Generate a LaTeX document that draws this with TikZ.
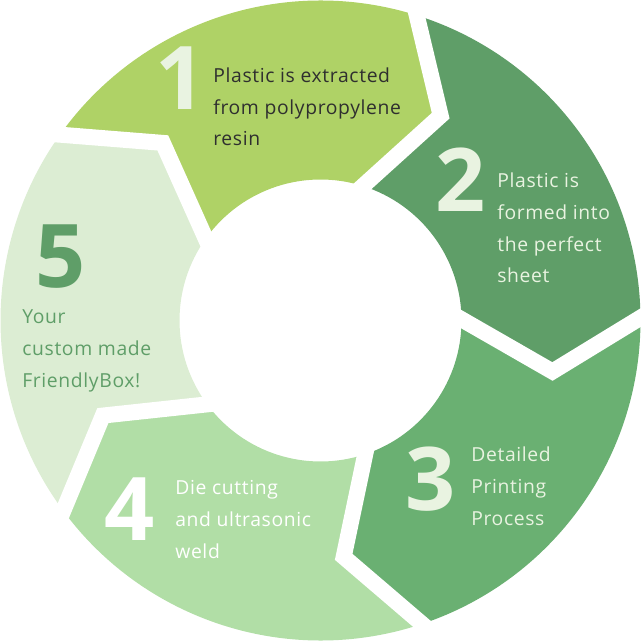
\documentclass[tikz,border=0pt]{standalone}
\usepackage{fontspec}
\setmainfont{Open Sans}
\usepackage{tikz}
\usetikzlibrary{calc}
\definecolor{stepOne}{HTML}{AFD266}
\definecolor{stepTwo}{HTML}{5F9E68}
\definecolor{stepThree}{HTML}{6AB072}
\definecolor{stepFour}{HTML}{B1DEA6}
\definecolor{stepFive}{HTML}{DCEDD3}
\definecolor{paleText}{HTML}{E9F3E1}
\definecolor{darkText}{HTML}{2F2F2F}

\begin{document}
\begin{tikzpicture}[
        x=0.02cm, y=0.02cm,
        gap/.style={draw=white, line width=0.32cm, line join=miter},
        num/.style={font=\fontsize{50}{50}\selectfont\bfseries,
                    inner sep=0pt, anchor=base},
        desc/.style={font=\fontsize{11}{18.2}\selectfont\addfontfeatures{LetterSpace=3.3},
                     inner sep=0pt, anchor=base west, align=left},
      ]
      \useasboundingbox (-320.5,-321.5) rectangle (321.5,320.5);
      \foreach \tail/\col in {144.5/stepOne, 72.5/stepTwo, 0.5/stepThree,
                              -71.5/stepFour, -143.5/stepFive}
        \fill[\col] (\tail:320) arc[start angle=\tail, end angle=\tail-72, radius=320]
          -- (\tail-84.9:237.5) -- (\tail-72:141)
          arc[start angle=\tail-72, end angle=\tail, radius=141]
          -- (\tail-12.9:237.5) -- cycle;
      \foreach \b in {0.5, 72.5, 144.5, 216.5, 288.5}
        \draw[gap] ($(\b-12.9:237.5)!1.15!(\b:320)$) -- (\b-12.9:237.5)
          -- ($(\b-12.9:237.5)!1.3!(\b:141)$);
      \node[num, text=paleText] (n1) at (-139.5,210.5) {1};
      \node[desc, text=darkText] (t1) at (-107.5,174.5)
        {Plastic is extracted\\from polypropylene\\resin};
      \node[num, text=paleText] (n2) at (140,108.5) {2};
      \node[desc, text=paleText] (t2) at (176.5,37.5)
        {Plastic is\\formed into\\the perfect\\sheet};
      \node[num, text=paleText] (n3) at (110.5,-189.5) {3};
      \node[desc, text=paleText] (t3) at (150.5,-204.5)
        {Detailed\\Printing\\Process};
      \node[num, text=white] (n4) at (-190.5,-219.5) {4};
      \node[desc, text=white] (t4) at (-145.5,-237.5)
        {Die cutting\\and ultrasonic\\weld};
      \node[num, text=stepTwo] (n5) at (-259.5,32.5) {5};
      \node[desc, text=stepTwo] (t5) at (-298.5,-66.5)
        {Your\\custom made\\FriendlyBox!};
    \end{tikzpicture}
\end{document}
